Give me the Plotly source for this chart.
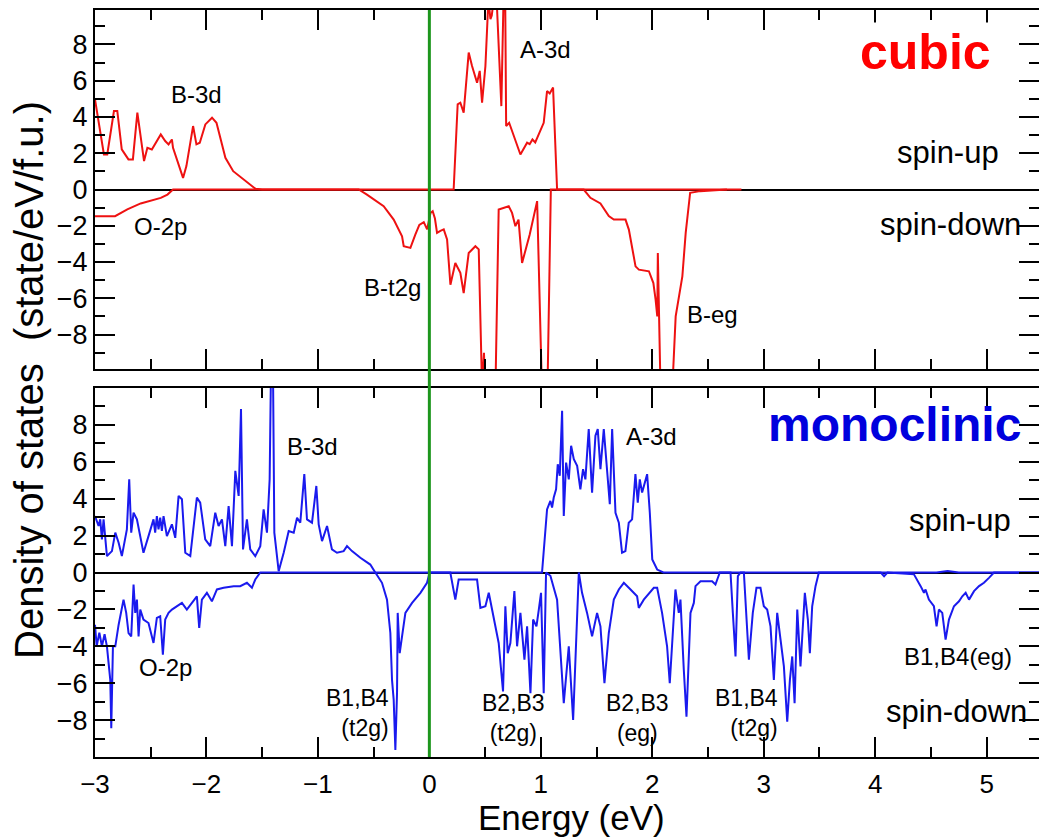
import plotly.graph_objects as go

# ---------------- data ----------------
cubic_up_x = [-3.0, -2.92, -2.89, -2.83, -2.80, -2.76, -2.70, -2.66, -2.62, -2.59, -2.56, -2.53, -2.49,
              -2.41, -2.37, -2.34, -2.31, -2.30, -2.21, -2.18, -2.12, -2.09, -2.06, -2.01, -1.95, -1.91,
              -1.83, -1.76, -1.67, -1.56, -1.50, 0.21,
              0.218, 0.254, 0.278, 0.308, 0.353, 0.383, 0.428, 0.452, 0.473, 0.503, 0.518, 0.53, 0.548,
              0.56, 0.578, 0.60, 0.646, 0.667, 0.68, 0.689, 0.716, 0.787, 0.817, 0.877, 0.90, 0.925,
              0.95, 1.026, 1.056, 1.08, 1.11, 1.146, 2.8]
cubic_up_y = [4.97, 1.93, 1.93, 4.33, 4.33, 2.21, 1.66, 1.66, 4.24, 2.76, 1.57, 2.30, 2.21,
              3.04, 2.67, 2.49, 2.76, 2.30, 0.64, 1.29, 3.50, 2.49, 2.58, 3.59, 3.96, 3.68,
              1.75, 1.01, 0.55, 0.04, 0.0, 0.0,
              0.0, 4.70, 4.79, 4.24, 7.55, 6.81, 5.89, 6.54, 4.79, 6.81, 9.39, 10.5, 9.39,
              9.6, 10.5, 11.0, 4.6, 11.0, 11.0, 3.5, 3.68, 2.39, 1.93, 2.58, 2.5, 2.76,
              2.6, 3.68, 5.43, 5.3, 5.62, 0.0, 0.0]

cubic_dn_x = [-3.0, -2.82, -2.71, -2.59, -2.41, -2.35, -2.30, -0.634, -0.56, -0.41, -0.32, -0.245,
              -0.23, -0.17, -0.126, -0.09, -0.05, -0.02, 0.01, 0.03, 0.05, 0.069, 0.099, 0.129, 0.159,
              0.189, 0.233, 0.278, 0.308, 0.353, 0.413, 0.443, 0.473, 0.49, 0.50, 0.51, 0.593, 0.622,
              0.667, 0.712, 0.742, 0.772, 0.80, 0.832, 0.90, 0.967, 1.01, 1.06, 1.09, 1.385, 1.445,
              1.535, 1.61, 1.655, 1.76, 1.79, 1.85, 1.88, 1.97, 2.01, 2.03, 2.045, 2.05, 2.06, 2.074,
              2.18, 2.21, 2.27, 2.30, 2.34, 2.43, 2.67]
cubic_dn_y = [-1.47, -1.47, -1.10, -0.77, -0.46, -0.28, 0.0, 0.0, -0.28, -0.92, -1.66, -2.58,
              -3.13, -3.22, -2.49, -1.95, -1.8, -2.2, -1.3, -1.2, -1.6, -2.39, -2.28, -2.2, -2.76,
              -5.25, -4.05, -4.6, -5.71, -3.5, -3.13, -3.3, -11.0, -9.0, -11.0, -11.0, -11.0, -1.10,
              -1.01, -0.92, -1.29, -2.02, -1.66, -4.05, -2.5, -0.64, -11.0, -11.0, 0.0, 0.0, -0.46,
              -0.77, -1.47, -1.66, -1.66, -2.21, -4.24, -4.42, -4.51, -5.16, -6.08, -7.0, -3.5, -7.1, -11.0,
              -11.0, -7.0, -4.79, -2.39, -0.18, -0.09, 0.0]

mono_up_x = [-3.0, -2.968, -2.953, -2.938, -2.923, -2.893, -2.848, -2.818, -2.788, -2.759, -2.714,
             -2.693, -2.675, -2.654, -2.624, -2.565, -2.52, -2.475, -2.46, -2.445, -2.43, -2.415,
             -2.40, -2.385, -2.355, -2.31, -2.28, -2.25, -2.22, -2.19, -2.145, -2.086, -2.056,
             -2.011, -1.966, -1.921, -1.891, -1.861, -1.831, -1.801, -1.771, -1.741, -1.711, -1.69,
             -1.672, -1.637, -1.607, -1.562, -1.517, -1.487, -1.457, -1.433, -1.421, -1.403, -1.391,
             -1.352, -1.307, -1.262, -1.217, -1.187, -1.158, -1.122, -1.098, -1.053, -1.014, -0.993,
             -0.963, -0.918, -0.874, -0.829, -0.769, -0.739, -0.694, -0.619, -0.53, -0.485, 1.0,
             1.011, 1.056, 1.086, 1.101, 1.116, 1.137, 1.152, 1.17, 1.191, 1.206, 1.227, 1.251,
             1.272, 1.296, 1.326, 1.355, 1.379, 1.40, 1.43, 1.46, 1.49, 1.511, 1.535, 1.565, 1.595,
             1.619, 1.64, 1.67, 1.70, 1.729, 1.759, 1.789, 1.819, 1.849, 1.87, 1.888, 1.909, 1.93,
             1.954, 1.978, 2.0, 2.044, 2.10, 4.55, 4.65, 4.75, 5.47]
mono_up_y = [3.06, 2.52, 2.88, 1.79, 2.88, 0.89, 1.16, 2.16, 1.61, 0.89, 2.34,
             5.05, 2.16, 3.24, 2.88, 1.07, 1.97, 2.88, 2.16, 3.06, 2.34, 2.97,
             2.25, 3.06, 1.97, 2.61, 1.88, 4.15, 3.97, 1.07, 0.89, 4.06, 3.79,
             1.79, 1.43, 3.24, 2.52, 2.88, 1.43, 3.6, 1.43, 5.51, 4.15, 8.86,
             1.25, 2.88, 1.25, 0.89, 1.43, 3.42, 2.16, 5.05, 11.0, 11.0, 2.16,
             0.07, 1.07, 2.25, 2.16, 2.97, 2.70, 5.33, 2.88, 2.70, 4.69, 2.61,
             1.70, 2.52, 1.25, 1.07, 1.16, 1.43, 1.16, 0.80, 0.43, 0.0, 0.0,
             0.0, 3.42, 3.88, 3.52, 4.06, 4.51, 5.87, 5.24, 8.77, 3.06, 5.96, 5.05,
             6.87, 6.14, 5.78, 4.51, 5.6, 5.05, 7.77, 4.33, 7.41, 7.77, 5.6, 7.77, 5.6,
             3.70, 7.77, 3.24, 2.70, 1.07, 1.16, 2.70, 2.88, 5.33, 3.79, 5.05, 4.33, 4.87,
             5.33, 3.24, 0.71, 0.16, 0.0, 0.0, 0.08, 0.0, 0.0]

mono_dn_x = [-3.0, -2.985, -2.961, -2.938, -2.914, -2.893, -2.863, -2.854, -2.839, -2.818, -2.788,
             -2.744, -2.72, -2.699, -2.675, -2.654, -2.639, -2.624, -2.609, -2.594, -2.565, -2.52,
             -2.475, -2.445, -2.415, -2.391, -2.37, -2.34, -2.31, -2.265, -2.22, -2.176, -2.131,
             -2.086, -2.065, -2.041, -1.996, -1.951, -1.906, -1.846, -1.756, -1.697, -1.637, -1.592,
             -1.562, -1.517, -0.485, -0.425, -0.38, -0.35, -0.335, -0.32, -0.305, -0.29, -0.284,
             -0.266, -0.245, -0.215, -0.155, -0.08, -0.021, 0.003, 0.188, 0.233, 0.263, 0.428,
             0.458, 0.503, 0.533, 0.578, 0.622, 0.661, 0.682, 0.703, 0.727, 0.763, 0.787, 0.817,
             0.853, 0.877, 0.907, 0.931, 0.961, 0.982, 1.002, 1.026, 1.047, 1.086, 1.146, 1.206,
             1.251, 1.29, 1.326, 1.341, 1.37, 1.415, 1.46, 1.505, 1.535, 1.571, 1.61, 1.655, 1.70,
             1.745, 1.805, 1.864, 1.879, 1.924, 2.014, 2.044, 2.088, 2.133, 2.157, 2.178, 2.208,
             2.238, 2.253, 2.283, 2.307, 2.343, 2.373, 2.388, 2.433, 2.537, 2.567, 2.606, 2.702,
             2.723, 2.747, 2.768, 2.792, 2.822, 2.843, 2.867, 2.902, 2.935, 2.971, 3.001, 3.031,
             3.061, 3.091, 3.121, 3.151, 3.181, 3.211, 3.235, 3.256, 3.277, 3.301, 3.33, 3.369,
             3.396, 3.414, 3.435, 3.465, 3.495, 4.05, 4.08, 4.11, 4.348, 4.408, 4.438, 4.452,
             4.482, 4.527, 4.551, 4.572, 4.602, 4.632, 4.662, 4.707, 4.752, 4.782, 4.812, 4.842,
             4.887, 4.932, 4.976, 5.021, 5.066, 5.47]
mono_dn_y = [-2.83, -4.0, -3.26, -4.0, -3.35, -4.0, -5.82, -8.44, -4.0, -4.0, -2.83,
             -1.47, -2.19, -3.28, -3.46, -0.65, -2.19, -1.47, -3.46, -2.01, -2.55, -2.74,
             -3.82, -2.46, -2.37, -4.46, -2.55, -2.19, -2.01, -1.83, -1.65, -2.01, -1.65,
             -1.29, -3.0, -1.47, -1.10, -1.56, -0.92, -0.83, -0.74, -0.74, -0.56, -0.83,
             -0.38, 0.0, 0.0, -0.56, -1.47, -3.28, -5.82, -6.9, -9.62, -6.5, -2.19,
             -4.37, -3.46, -2.19, -1.65, -1.10, -0.56, 0.0, 0.0, -1.47, -0.38, -0.38,
             -1.92, -1.83, -1.10, -2.55, -3.82, -6.45, -1.83, -4.37, -3.82, -1.01, -4.0, -2.19,
             -4.73, -2.92, -6.54, -2.55, -2.92, -2.01, -1.10, -6.54, 0.0, -0.18, -1.47, -7.08,
             -4.0, -7.99, -2.19, 0.0, -1.10, -2.19, -3.46, -2.19, -2.92, -6.0, -3.28, -1.47, -0.92,
             -0.56, -0.92, -1.29, -1.92, -1.47, -0.83, -0.83, -2.19, -4.0, -6.0, -4.0, -0.92,
             -2.19, -1.47, -5.27, -7.81, -2.19, -1.65, -0.74, -0.47, -0.47, -0.65, 0.0, 0.0,
             -2.19, -4.55, -0.2, 0.0, 0.0, -2.19, -4.73, -2.19, -0.83, -0.83, -1.83, -2.01,
             -2.92, -5.82, -2.19, -3.64, -5.09, -8.08, -5.82, -4.55, -7.08, -2.01, -5.09, -1.10,
             -2.55, -4.37, -1.83, -0.74, 0.0, 0.0, -0.2, 0.0, -0.1, -0.74, -1.1, -0.92,
             -1.47, -1.83, -2.92, -2.01, -2.19, -3.64, -2.55, -1.83, -1.56, -1.29, -1.10, -1.47,
             -1.01, -0.74, -0.56, -0.29, 0.0, 0.0]

x_ticks = [-3, -2, -1, 0, 1, 2, 3, 4, 5]
y_ticks = [-8, -6, -4, -2, 0, 2, 4, 6, 8]

# ---------------- figure ----------------
FONT = "Liberation Sans, Arial, Helvetica, sans-serif"
RED = "#ee1111"
BLUE = "#1a1aee"

fig = go.Figure()
fig.add_trace(go.Scatter(x=cubic_up_x, y=cubic_up_y, mode="lines", line=dict(color=RED, width=2),
                         xaxis="x", yaxis="y", showlegend=False))
fig.add_trace(go.Scatter(x=cubic_dn_x, y=cubic_dn_y, mode="lines", line=dict(color=RED, width=2),
                         xaxis="x", yaxis="y", showlegend=False))
fig.add_trace(go.Scatter(x=mono_up_x, y=mono_up_y, mode="lines", line=dict(color=BLUE, width=2),
                         xaxis="x2", yaxis="y2", showlegend=False))
fig.add_trace(go.Scatter(x=mono_dn_x, y=mono_dn_y, mode="lines", line=dict(color=BLUE, width=2),
                         xaxis="x2", yaxis="y2", showlegend=False))

H_PLOT = 840 - 10 - 83
top_dom = [(757 - 369) / H_PLOT, 1.0]
bot_dom = [0.0, (757 - 388) / H_PLOT]

def xax(labels, anchor):
    return dict(range=[-3, 5.47], tickvals=x_ticks, ticks="inside", ticklen=20, tickwidth=2,
                tickcolor="black", showline=True, linecolor="black", linewidth=2, mirror="allticks",
                showgrid=False, zeroline=False, showticklabels=labels, anchor=anchor,
                tickfont=dict(family=FONT, size=26, color="black"), automargin=False,
                minor=dict(dtick=0.5, tick0=0, ticks="inside", ticklen=10, tickwidth=2,
                           tickcolor="black", showgrid=False),
                ticklabelstandoff=3)

def yax(rng, dom, anchor):
    return dict(range=rng, domain=dom, tickvals=y_ticks, ticks="inside", ticklen=20, tickwidth=2,
                tickcolor="black", showline=True, linecolor="black", linewidth=2, mirror="allticks",
                showgrid=False, zeroline=True, zerolinecolor="black", zerolinewidth=1.5,
                anchor=anchor, tickfont=dict(family=FONT, size=27, color="black"), automargin=False,
                minor=dict(dtick=1, tick0=0, ticks="inside", ticklen=10, tickwidth=2,
                           tickcolor="black", showgrid=False))

fig.update_layout(
    width=1039, height=840,
    margin=dict(l=95, r=0, t=10, b=83),
    plot_bgcolor="white", paper_bgcolor="white",
    template="none",
    xaxis=xax(False, "y"),
    yaxis=yax([-9.9, 9.9], top_dom, "x"),
    xaxis2=xax(True, "y2"),
    yaxis2=yax([-10, 10], bot_dom, "x2"),
)

# green Fermi line across both panels
fig.add_shape(type="line", xref="x", yref="paper", x0=0, x1=0, y0=0, y1=1,
              line=dict(color="#1d961d", width=3), layer="above")

def ann(text, x, y, xref, yref, size=24, color="black", bold=False, bg=None,
        xanchor="center", align="center"):
    fig.add_annotation(text=("<b>%s</b>" % text) if bold else text, x=x, y=y, xref=xref, yref=yref,
                       showarrow=False, font=dict(family=FONT, size=size, color=color),
                       bgcolor=bg, xanchor=xanchor, yanchor="middle", align=align)

# top panel labels
ann("B-3d", -2.09, 5.25, "x", "y")
ann("O-2p", -2.41, -2.04, "x", "y")
ann("B-t2g", -0.33, -5.41, "x", "y")
ann("A-3d", 1.04, 7.73, "x", "y")
ann("B-eg", 2.54, -6.9, "x", "y")
ann("cubic", 4.45, 7.6, "x", "y", size=50, color="#ff0000", bold=True, bg="white")
ann("spin-up", 4.65, 2.04, "x", "y", size=31)
ann("spin-down", 4.68, -1.93, "x", "y", size=31)

# bottom panel labels
ann("B-3d", -1.05, 6.85, "x2", "y2")
ann("O-2p", -2.37, -5.16, "x2", "y2")
ann("B1,B4<br>(t2g)", -0.341, -7.64, "x2", "y2", size=23, xanchor="right", align="right")
ann("B2,B3<br>(t2g)", 0.458, -7.88, "x2", "y2", size=23, xanchor="left", align="center")
ann("B2,B3<br>(eg)", 1.87, -7.88, "x2", "y2", size=23)
ann("B1,B4<br>(t2g)", 3.15, -7.61, "x2", "y2", size=23, xanchor="right", align="right")
ann("B1,B4(eg)", 4.74, -4.57, "x2", "y2")
ann("A-3d", 1.99, 7.39, "x2", "y2")
ann("monoclinic", 4.17, 8.04, "x2", "y2", size=48, color="#0000dd", bold=True)
ann("spin-up", 4.76, 2.83, "x2", "y2", size=31)
ann("spin-down", 4.73, -7.55, "x2", "y2", size=31)

# axis titles as annotations (pixel-positioned)
fig.add_annotation(text="Energy (eV)", x=(571 - 95) / (1039 - 95), y=-(818 - 757) / H_PLOT,
                   xref="paper", yref="paper", showarrow=False, xanchor="center", yanchor="middle",
                   borderpad=0, font=dict(family=FONT, size=35, color="black"))
fig.add_annotation(text="Density of states  (state/eV/f.u.)", x=-(95 - 29) / (1039 - 95),
                   y=(757 - 380) / H_PLOT, xref="paper", yref="paper", showarrow=False,
                   textangle=-90, xanchor="center", yanchor="middle",
                   font=dict(family=FONT, size=40, color="black"))

fig.write_html("out.html")
